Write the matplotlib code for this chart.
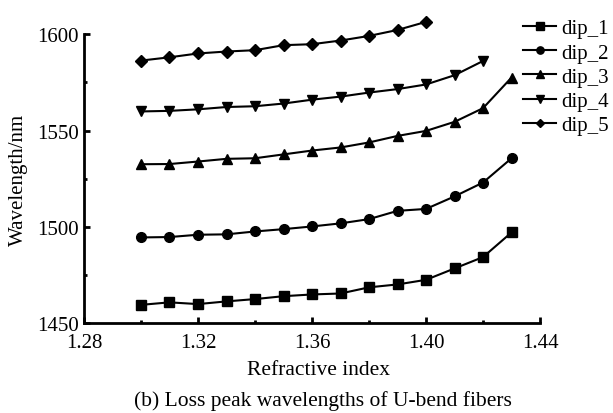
import numpy as np
import matplotlib.pyplot as plt
from matplotlib.ticker import MultipleLocator, FormatStrFormatter

plt.rcParams['font.family'] = ['Liberation Serif', 'DejaVu Serif']

ri = [1.30, 1.31, 1.32, 1.33, 1.34, 1.35, 1.36, 1.37, 1.38, 1.39, 1.40, 1.41, 1.42, 1.43]

dip_1 = [1459.5, 1460.8, 1459.9, 1461.3, 1462.5, 1464.0, 1464.9, 1465.4, 1468.6, 1470.1, 1472.5, 1478.4, 1484.3, 1497.1]
dip_2 = [1494.5, 1494.7, 1495.9, 1496.1, 1497.6, 1498.8, 1500.2, 1501.8, 1504.0, 1508.3, 1509.3, 1515.8, 1523.0, 1535.6]
dip_3 = [1532.5, 1532.6, 1533.9, 1535.3, 1535.6, 1537.6, 1539.6, 1541.2, 1543.8, 1547.2, 1549.8, 1554.5, 1561.6, 1577.5]
dip_4 = [1559.9, 1560.2, 1561.0, 1562.2, 1562.6, 1564.0, 1566.0, 1567.6, 1569.7, 1571.5, 1573.9, 1578.7, 1586.1]
dip_5 = [1586.3, 1588.0, 1590.0, 1591.0, 1591.7, 1594.3, 1594.8, 1596.7, 1599.1, 1602.2, 1606.4]

series = [("dip_1", dip_1, "s"), ("dip_2", dip_2, "o"), ("dip_3", dip_3, "^"),
          ("dip_4", dip_4, "v"), ("dip_5", dip_5, "D")]

fig = plt.figure(figsize=(6.13, 4.14), dpi=100)
ax = fig.add_axes([0.137, 0.217, 0.744, 0.698])

for name, vals, m in series:
    ms = 6 if m == "D" else 7
    ax.plot(ri[:len(vals)], vals, color="black", lw=1.5, marker=m, ms=ms,
            label=name, clip_on=False)

ax.set_xlim(1.28, 1.44)
ax.set_ylim(1450, 1600)
ax.xaxis.set_major_locator(MultipleLocator(0.04))
ax.xaxis.set_minor_locator(MultipleLocator(0.02))
ax.xaxis.set_major_formatter(FormatStrFormatter("%.2f"))
ax.yaxis.set_major_locator(MultipleLocator(50))
ax.yaxis.set_minor_locator(MultipleLocator(25))

for s in ["top", "right"]:
    ax.spines[s].set_visible(False)
for s in ["left", "bottom"]:
    ax.spines[s].set_linewidth(2)

ax.tick_params(which="major", direction="in", length=4, width=2, labelsize=15)
ax.tick_params(which="minor", direction="in", length=2, width=2)
ax.tick_params(axis="x", which="major", pad=7)
ax.tick_params(axis="y", which="major", pad=4)

ax.set_xlabel("Refractive index", fontsize=15.5, labelpad=6)
ax.xaxis.label.set_x(0.515)
ax.set_ylabel("Wavelength/nm", fontsize=15, labelpad=6)

fig.legend(loc="upper left", bbox_to_anchor=(0.853, 0.952), frameon=False,
           fontsize=15, handlelength=1.6, handletextpad=0.25, labelspacing=0.22,
           borderaxespad=0, borderpad=0, markerscale=0.75)

fig.text(0.527, 0.032, "(b) Loss peak wavelengths of U-bend fibers", ha="center",
         va="center", fontsize=15.5)

fig.savefig("out.png", dpi=100)
